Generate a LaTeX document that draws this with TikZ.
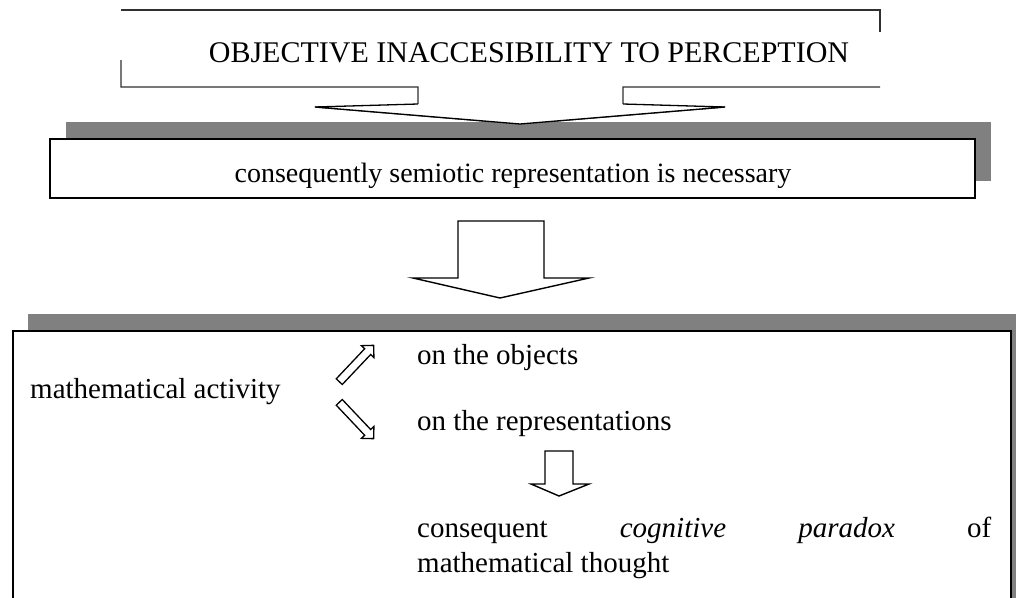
\documentclass[tikz,border=0pt]{standalone}
\usepackage{fontspec}
\setmainfont{Liberation Serif}
\usetikzlibrary{shapes.arrows}
\definecolor{shadowgray}{HTML}{808080}
\definecolor{lightline}{HTML}{303030}
\begin{document}
\begin{tikzpicture}[x=1pt,y=-1pt,
  shadowbox/.style={fill=shadowgray, draw=none},
  whitebox/.style={fill=white, draw=black, line width=2pt},
  topline/.style={draw=lightline, line width=1.3pt},
  blockarrow/.style={draw=black, line width=1.4pt, fill=white, line join=miter},
  lbl/.style={font=\fontsize{29}{35}\selectfont, inner sep=0pt, anchor=base west},
  hollowarrow/.style={single arrow, draw=black, fill=white, line width=1.3pt,
    minimum width=16pt, single arrow head extend=4.5pt, inner sep=3.5pt,
    single arrow tip angle=90, minimum height=50pt}
]
\useasboundingbox (0,0) rectangle (1016,597);
\clip (0,0) rectangle (1016,597);

% top box (partially drawn border) with open block arrow
\coordinate (tbnw) at (121,10);
\coordinate (tbne) at (880,10);
\draw[topline] (tbnw) -- (tbne) -- (880,32);
\draw[topline] (121,60) -- (121,87) -- (418,87) -- (418,107) -- (315,107)
  -- (520,124) -- (725,107) -- (623,107) -- (623,87) -- (880,87);
\node[font=\fontsize{30}{36}\selectfont, inner sep=0pt, anchor=base] (top) at (529,62)
  {OBJECTIVE INACCESIBILITY TO PERCEPTION};

% second box with shadow
\fill[shadowbox] (66,122) rectangle (991,181);
\draw[blockarrow, line width=1.3pt] (418,104) -- (315,107) -- (520,124) -- (725,107) -- (623,104);
\node[whitebox, minimum width=925pt, minimum height=59pt, inner sep=0pt, anchor=north west]
  (second) at (49,138) {};
\node[lbl, font=\fontsize{28}{34}\selectfont, anchor=base] (secondtxt) at (513,182)
  {consequently semiotic representation is necessary};

% big arrow
\draw[blockarrow] (458,221) -- (544,221) -- (544,278) -- (589,278) -- (500,298)
  -- (413,278) -- (458,278) -- cycle;

% third box with shadow
\fill[shadowbox] (28,314) rectangle (1030,620);
\node[whitebox, minimum width=998pt, minimum height=290pt, inner sep=0pt, anchor=north west]
  (third) at (12,330) {};

\node[lbl] (act) at (30,398) {mathematical activity};
\node[lbl] (obj) at (417,364) {on the objects};
\node[lbl] (rep) at (417,430) {on the representations};
\node[lbl] (cons1) at (417,537)
  {\makebox[574pt][s]{consequent \textit{cognitive} \textit{paradox} of}};
\node[lbl] (cons2) at (417,572) {mathematical thought};

% small hollow arrows
\node[hollowarrow, rotate=46.6] (up) at (355,365) {};
\node[hollowarrow, rotate=-46.6] (down) at (355,419) {};

% small down arrow
\draw[blockarrow] (545,451) -- (573,451) -- (573,484) -- (589,484) -- (559,496)
  -- (531,484) -- (545,484) -- cycle;
\end{tikzpicture}
\end{document}
